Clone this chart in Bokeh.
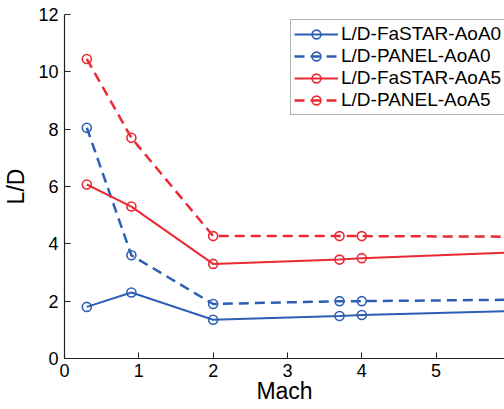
from bokeh.plotting import figure
from bokeh.models import Range1d, Legend, LegendItem, FixedTicker
from bokeh.embed import file_html
from bokeh.resources import INLINE

mach = [0.3, 0.9, 2.0, 3.7, 4.0, 6.0]
fastar_aoa0 = [1.8, 2.3, 1.35, 1.48, 1.52, 1.65]
panel_aoa0 = [8.05, 3.6, 1.9, 2.0, 2.0, 2.05]
fastar_aoa5 = [6.07, 5.3, 3.3, 3.45, 3.5, 3.7]
panel_aoa5 = [10.45, 7.7, 4.27, 4.27, 4.27, 4.25]
x_ticks = [0, 1, 2, 3, 4, 5]
y_ticks = [0, 2, 4, 6, 8, 10, 12]

BLUE = "#2c5fb5"
RED = "#ec2a33"

p = figure(width=504, height=409, output_backend="svg", toolbar_location=None,
           x_range=Range1d(0, 5.92), y_range=Range1d(0, 12),
           min_border_left=63, min_border_right=0, min_border_top=14, min_border_bottom=51)
p.outline_line_color = None
p.xgrid.visible = False
p.ygrid.visible = False
p.background_fill_color = "white"
p.border_fill_color = "white"

for ax in (p.xaxis[0], p.yaxis[0]):
    ax.major_tick_in = 6
    ax.major_tick_out = 0
    ax.minor_tick_line_color = None
    ax.axis_line_color = "#222222"
    ax.major_tick_line_color = "#222222"
    ax.axis_line_width = 1.2
    ax.major_label_text_font = "Liberation Sans"
    ax.major_label_text_font_size = "18px"
    ax.major_label_text_color = "black"
    ax.axis_label_text_font = "Liberation Sans"
    ax.axis_label_text_font_size = "23px"
    ax.axis_label_text_font_style = "normal"
    ax.axis_label_text_color = "black"

p.xaxis[0].ticker = FixedTicker(ticks=x_ticks)
p.yaxis[0].ticker = FixedTicker(ticks=y_ticks)
p.xaxis[0].axis_label = "Mach"
p.yaxis[0].axis_label = "L/D"
p.xaxis[0].major_label_standoff = 5
p.yaxis[0].major_label_standoff = 6
p.xaxis[0].axis_label_standoff = -2
p.yaxis[0].axis_label_standoff = 6

series = [
    ("L/D-FaSTAR-AoA0", fastar_aoa0, BLUE, "solid"),
    ("L/D-PANEL-AoA0", panel_aoa0, BLUE, "10 6"),
    ("L/D-FaSTAR-AoA5", fastar_aoa5, RED, "solid"),
    ("L/D-PANEL-AoA5", panel_aoa5, RED, "10 6"),
]
items = []
for name, ys, col, dash in series:
    lw = 2 if dash == "solid" else 2.5
    r1 = p.line(mach, ys, line_color=col, line_width=lw, line_dash=dash)
    r2 = p.scatter(mach, ys, marker="circle", size=9, fill_color="white", fill_alpha=0,
                   line_color=col, line_width=1.6)
    items.append(LegendItem(label=name, renderers=[r1, r2]))

legend = Legend(items=items, location=(226, 243))
legend.label_text_font = "Liberation Sans"
legend.label_text_font_size = "19px"
legend.label_text_color = "black"
legend.glyph_width = 44
legend.glyph_height = 22
legend.label_height = 22
legend.label_width = 165
legend.label_standoff = 3
legend.spacing = 0
legend.padding = 3
legend.margin = 0
legend.border_line_color = "#666666"
legend.border_line_width = 1.5
legend.background_fill_color = "white"
p.add_layout(legend, "center")

open("out.html", "w").write(file_html(p, INLINE))
